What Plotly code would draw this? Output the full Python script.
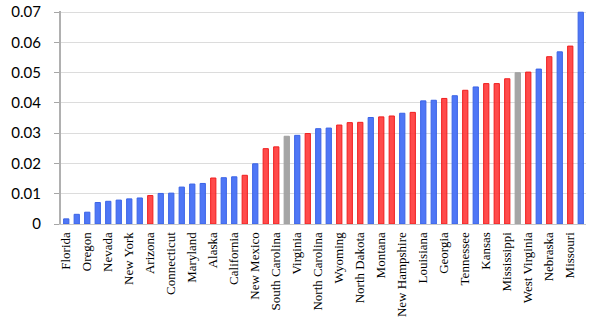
import plotly.graph_objects as go

# states ordered by value; only every other one gets a tick label
states = ["Florida", "Hawaii", "Oregon", "Massachusetts", "Nevada", "Rhode Island",
          "New York", "Vermont", "Arizona", "New Jersey", "Connecticut", "Illinois",
          "Maryland", "Washington", "Alaska", "Delaware", "California", "Texas",
          "New Mexico", "Utah", "South Carolina", "Indiana", "Virginia", "Idaho",
          "North Carolina", "Michigan", "Wyoming", "Oklahoma", "North Dakota", "Minnesota",
          "Montana", "Alabama", "New Hampshire", "Arkansas", "Louisiana", "Wisconsin",
          "Georgia", "Pennsylvania", "Tennessee", "Colorado", "Kansas", "South Dakota",
          "Mississippi", "Kentucky", "West Virginia", "Iowa", "Nebraska", "Maine",
          "Missouri", "Ohio"]

values = [0.0017, 0.0032, 0.0039, 0.0071, 0.0075, 0.0079, 0.0083, 0.0086, 0.0094, 0.0101,
          0.0102, 0.0122, 0.0132, 0.0134, 0.0152, 0.0153, 0.0156, 0.0161, 0.0199, 0.0249,
          0.0255, 0.0290, 0.0293, 0.0299, 0.0315, 0.0317, 0.0327, 0.0335, 0.0336, 0.0352,
          0.0354, 0.0357, 0.0366, 0.0369, 0.0407, 0.0409, 0.0415, 0.0424, 0.0442, 0.0453,
          0.0464, 0.0464, 0.0480, 0.0500, 0.0502, 0.0512, 0.0553, 0.0569, 0.0588, 0.0700]

# party colour per bar: D = blue, R = red, S = grey
party = ["D", "D", "D", "D", "D", "D", "D", "D", "R", "D",
         "D", "D", "D", "D", "R", "D", "D", "R", "D", "R",
         "R", "S", "D", "R", "D", "D", "R", "R", "R", "D",
         "R", "R", "D", "R", "D", "D", "R", "D", "R", "D",
         "R", "R", "R", "S", "R", "D", "R", "D", "R", "D"]

yticks = [0, 0.01, 0.02, 0.03, 0.04, 0.05, 0.06, 0.07]
ylabels = ["0", "0.01", "0.02", "0.03", "0.04", "0.05", "0.06", "0.07"]

fill = {"D": "rgba(70,112,245,0.95)", "R": "rgba(255,55,55,0.9)", "S": "rgba(160,160,160,0.95)"}
edge = {"D": "#3a63e6", "R": "#f01e1e", "S": "#a0a0a0"}

fig = go.Figure(go.Bar(
    x=states, y=values, cliponaxis=False,
    marker=dict(color=[fill[p] for p in party],
                line=dict(color=[edge[p] for p in party], width=1)),
))

fig.update_layout(
    width=592, height=324,
    margin=dict(l=61, r=6, t=11, b=100),
    plot_bgcolor="white", paper_bgcolor="white",
    bargap=0.5, showlegend=False,
    font=dict(family="Liberation Serif", color="black"),
)

fig.update_xaxes(
    range=[-0.5, len(states) - 0.5], automargin=False,
    tickvals=states[::2], ticktext=states[::2],
    tickangle=-90, tickfont=dict(size=13),
    showline=True, linecolor="#c8c8c8", linewidth=1,
    showgrid=False, ticks="", ticklabelstandoff=2,
)
fig.update_yaxes(
    range=[0, 0.0704], tickvals=yticks, ticktext=ylabels,
    automargin=False,
    tickfont=dict(family="Lato", size=15),
    showline=True, linecolor="#b0b0b0", linewidth=2,
    gridcolor="#dcdcdc", gridwidth=1,
    ticks="outside", ticklen=5, tickcolor="#a6a6a6",
    ticklabelstandoff=10, zeroline=False,
)

# drop the default 8px body margin so the figure fills the window
fig.write_html("out.html", config={"displayModeBar": False},
               post_script="document.body.style.margin='0';")
